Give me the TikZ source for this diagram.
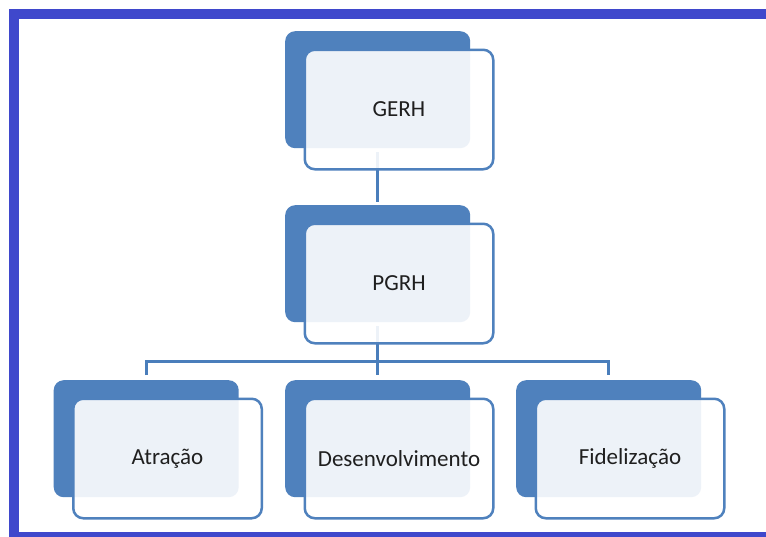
\documentclass[tikz,border=0pt]{standalone}
\usepackage{fontspec}
\setmainfont{Carlito}
\definecolor{accent}{HTML}{4F81BD}
\definecolor{linkblue}{HTML}{4A7EBB}
\definecolor{frameblue}{HTML}{3F48CC}
\begin{document}
\begin{tikzpicture}[x=1pt,y=-1pt,
  backbox/.style={rectangle, rounded corners=10pt, fill=accent, draw=none,
    minimum width=185pt, minimum height=117pt, anchor=north west, inner sep=0pt},
  frontbox/.style={rectangle, rounded corners=10pt, draw=accent, line width=2.5pt,
    fill=white, fill opacity=0.9, text opacity=1, text=black!88,
    minimum width=188.5pt, minimum height=119.5pt, anchor=north west, inner sep=0pt,
    font=\fontsize{23}{27}\selectfont},
  conn/.style={draw=linkblue, line width=3pt}]
\useasboundingbox (0,0) rectangle (766,536);
\clip (0,0) rectangle (766,536);
\fill[white] (0,0) rectangle (766,536);
% outer frame
\draw[frameblue, line width=10pt] (14,14.3) rectangle (800,537.3);

% back plates
\node[backbox] (gerhB) at (285,31) {};
\node[backbox] (pgrhB) at (285,205) {};
\node[backbox] (atrB) at (53.5,380) {};
\node[backbox] (desB) at (285,380) {};
\node[backbox] (fidB) at (516,380) {};

% connectors
\coordinate (bus) at (377.5,361.7);
\draw[conn] ([yshift=-4pt]gerhB.south) -- ([yshift=3pt]pgrhB.north);
\draw[conn] ([yshift=-4pt]pgrhB.south) -- ([yshift=5pt]desB.north);
\draw[conn] ([yshift=5pt]atrB.north) |- (bus) -| ([yshift=5pt]fidB.north);

% front cards
\node[frontbox] (gerh) at (303.5,48.5) {GERH};
\node[frontbox] (pgrh) at (303.5,222.5) {PGRH};
\node[frontbox] (atr) at (72,397.5) {Atração};
\node[frontbox] (des) at (303.5,397.5) {Desenvolvimento};
\node[frontbox] (fid) at (534.5,397.5) {Fidelização};
\end{tikzpicture}
\end{document}
